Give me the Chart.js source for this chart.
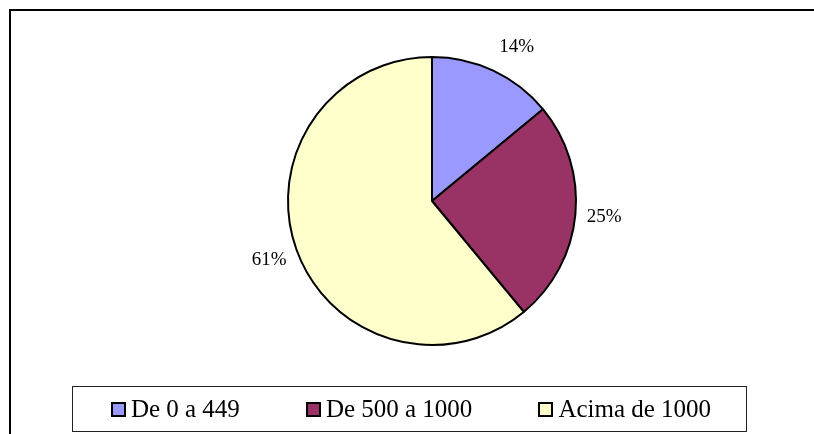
<!DOCTYPE html>
<html>
<head>
<meta charset="utf-8">
<script src="https://cdn.jsdelivr.net/npm/chart.js@4/dist/chart.umd.min.js"></script>
<style>
  body { margin: 0; background: #fff; }
  #wrap { position: relative; width: 814px; height: 434px; overflow: hidden; background: #fff; }
  #frame { position: absolute; left: 9px; top: 9px; width: 900px; height: 500px;
    border-left: 2px solid #000; border-top: 2px solid #000; box-sizing: border-box; }
  #pie { position: absolute; left: 0; top: 0; }
  #legend { position: absolute; left: 72px; top: 386px; width: 675px; height: 46px; box-sizing: border-box;
    border: 1px solid #222; display: flex; align-items: center; justify-content: center; gap: 66px;
    padding-left: 3px; font-family: "Liberation Serif", "Times New Roman", serif; font-size: 25px;
    color: #000; }
  #legend .item { display: flex; align-items: center; white-space: nowrap; }
  #legend .box { width: 15px; height: 15px; border: 2px solid #000; box-sizing: border-box; margin-right: 5px; }
</style>
</head>
<body>
<div id="wrap">
  <div id="frame"></div>
  <canvas id="pie" width="814" height="434"></canvas>
  <div id="legend"></div>
</div>
<script>
const categories = ['De 0 a 449', 'De 500 a 1000', 'Acima de 1000'];
const shares = [14, 25, 61];
const sliceColors = ['#9999ff', '#993366', '#ffffcc'];

// percent labels placed just outside each slice
const outsideLabels = {
  id: 'outsideLabels',
  afterDatasetsDraw(chart, args, opts) {
    const { ctx } = chart;
    const meta = chart.getDatasetMeta(0);
    const total = shares.reduce((a, b) => a + b, 0);
    ctx.save();
    ctx.font = '19px "Liberation Serif", "Times New Roman", serif';
    ctx.fillStyle = '#000';
    ctx.textAlign = 'center';
    ctx.textBaseline = 'middle';
    meta.data.forEach((arc, i) => {
      const mid = (arc.startAngle + arc.endAngle) / 2;
      const d = arc.outerRadius + 29;
      const nudge = opts.nudge[i] || [0, 0];
      const x = arc.x + Math.cos(mid) * d + nudge[0];
      const y = arc.y + Math.sin(mid) * d + nudge[1];
      ctx.fillText(Math.round(shares[i] / total * 100) + '%', x, y);
    });
    ctx.restore();
  },
};

// legend drawn as html from the chart's own legend items
const htmlLegend = {
  id: 'htmlLegend',
  afterUpdate(chart) {
    const box = document.getElementById('legend');
    box.innerHTML = '';
    chart.options.plugins.legend.labels.generateLabels(chart).forEach((item) => {
      const el = document.createElement('span');
      el.className = 'item';
      const sw = document.createElement('span');
      sw.className = 'box';
      sw.style.background = item.fillStyle;
      el.appendChild(sw);
      el.appendChild(document.createTextNode(item.text));
      box.appendChild(el);
    });
  },
};

new Chart(document.getElementById('pie'), {
  type: 'pie',
  data: {
    labels: categories,
    datasets: [{
      data: shares,
      backgroundColor: sliceColors,
      borderColor: '#000',
      borderWidth: 2,
    }],
  },
  options: {
    responsive: false,
    animation: false,
    events: [],
    radius: 144,
    layout: { padding: { left: 50, right: 0, top: 0, bottom: 32 } },
    plugins: {
      legend: { display: false },
      tooltip: { enabled: false },
      outsideLabels: { nudge: [[11, 3], [0, 0], [0, 0]] },
    },
  },
  plugins: [outsideLabels, htmlLegend],
});
</script>
</body>
</html>
